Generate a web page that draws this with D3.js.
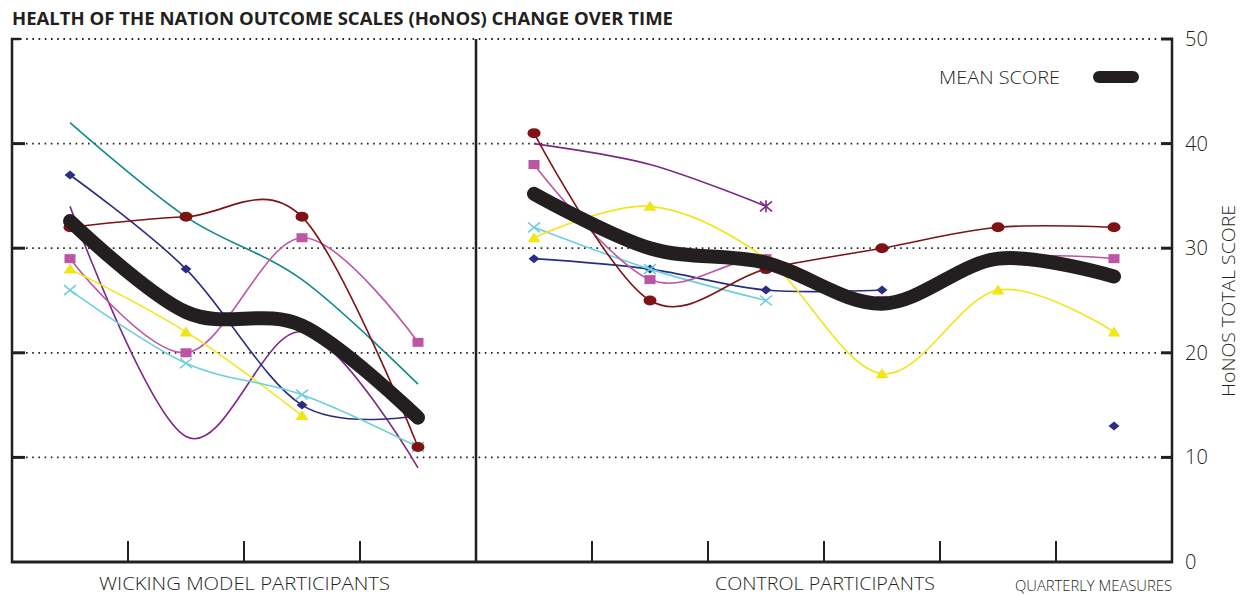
<!DOCTYPE html>
<html>
<head>
<meta charset="utf-8">
<script src="https://cdn.jsdelivr.net/npm/d3@7"></script>
<style>
  html, body { margin: 0; padding: 0; background: #ffffff; }
  svg { display: block; }
  text { font-family: "Open Sans", "Noto Sans", sans-serif; fill: #231f20; }
</style>
</head>
<body>
<svg id="chart" width="1241" height="596"></svg>
<script>
// ---------------- DATA ----------------
const title = "HEALTH OF THE NATION OUTCOME SCALES (HoNOS) CHANGE OVER TIME";
const yTicks = [0, 10, 20, 30, 40, 50];
const quarters = ["W1", "W2", "W3", "W4", "C1", "C2", "C3", "C4", "C5", "C6"];
const wickingQuarters = ["W1", "W2", "W3", "W4"];
const controlQuarters = ["C1", "C2", "C3", "C4", "C5", "C6"];
const groupLabels = ["WICKING MODEL PARTICIPANTS", "CONTROL PARTICIPANTS"];
const axisTitle = "HoNOS TOTAL SCORE";
const xAxisNote = "QUARTERLY MEASURES";
const legendLabel = "MEAN SCORE";

// Wicking model participants (4 quarters)
const wickTeal   = [42, 33, 27, 17];
const wickNavy   = [37, 28, 15, 14];
const wickRed    = [32, 33, 33, 11];
const wickPink   = [29, 20, 31, 21];
const wickYellow = [28, 22, 14, null];
const wickCyan   = [26, 19, 16, 11];
const wickPurple = [34, 12, 22, 9];
const wickMean   = [32.6, 23.9, 22.6, 13.8];

// Control participants (6 quarters)
const ctrlRed    = [41, 25, 28, 30, 32, 32];
const ctrlPurple = [40, 38, 34, null, null, null];
const ctrlPink   = [38, 27, 29, 25, 29, 29];
const ctrlYellow = [31, 34, 29, 18, 26, 22];
const ctrlCyan   = [32, 28, 25, null, null, null];
const ctrlNavy   = [29, 28, 26, 26, null, 13];
const ctrlMean   = [35.2, 30.0, 28.6, 24.7, 29.0, 27.3];

// ---------------- STYLE ----------------
const INK = "#231f20";
const colors = {
  teal: "#14898a", navy: "#2b2e80", red: "#7d1315", pink: "#bb55a4",
  yellow: "#f0e616", cyan: "#6ccfdc", purple: "#7d2a86"
};

const wickingSeries = [
  { values: wickPurple, color: colors.purple, marker: null },
  { values: wickTeal,   color: colors.teal,   marker: null },
  { values: wickNavy,   color: colors.navy,   marker: "diamond" },
  { values: wickPink,   color: colors.pink,   marker: "square" },
  { values: wickYellow, color: colors.yellow, marker: "triangle" },
  { values: wickCyan,   color: colors.cyan,   marker: "cross" },
  { values: wickRed,    color: colors.red,    marker: "circle" }
];
const controlSeries = [
  { values: ctrlPurple, color: colors.purple, marker: "asterisk", markerLastOnly: true },
  { values: ctrlNavy,   color: colors.navy,   marker: "diamond" },
  { values: ctrlCyan,   color: colors.cyan,   marker: "cross" },
  { values: ctrlYellow, color: colors.yellow, marker: "triangle" },
  { values: ctrlPink,   color: colors.pink,   marker: "square" },
  { values: ctrlRed,    color: colors.red,    marker: "circle" }
];

// ---------------- SCALES ----------------
const svg = d3.select("#chart");
const pLeft = 12, pRight = 1172, pTop = 39, pBottom = 562;
const x = d3.scaleBand().domain(quarters).range([pLeft, pRight]).padding(0);
const y = d3.scaleLinear().domain([0, 50]).range([pBottom, pTop]);
const cx = q => x(q) + x.bandwidth() / 2;
const curve = d3.curveCardinal.tension(0);

// ---------------- TITLE ----------------
svg.append("text")
  .attr("x", 12).attr("y", 25)
  .attr("font-size", 18).attr("font-weight", 700)
  .attr("textLength", 661).attr("lengthAdjust", "spacingAndGlyphs")
  .text(title);

// ---------------- GRID ----------------
const grid = svg.append("g");
yTicks.filter(t => t > 0).forEach(t => {
  grid.append("line")
    .attr("x1", t === 50 ? 20 : 26).attr("x2", 1160)
    .attr("y1", y(t)).attr("y2", y(t))
    .attr("stroke", INK).attr("stroke-width", 1.8)
    .attr("stroke-dasharray", "1.6,4.6");
});

// ---------------- FRAME / AXES ----------------
const frame = svg.append("g").attr("stroke", INK).attr("fill", "none");
// left axis
frame.append("line").attr("x1", pLeft).attr("x2", pLeft).attr("y1", pTop - 1).attr("y2", pBottom + 1).attr("stroke-width", 2.5);
frame.append("line").attr("x1", pLeft - 1).attr("x2", 20).attr("y1", pTop).attr("y2", pTop).attr("stroke-width", 2.5);
yTicks.filter(t => t > 0 && t < 50).forEach(t => {
  frame.append("line").attr("x1", pLeft).attr("x2", 25).attr("y1", y(t)).attr("y2", y(t)).attr("stroke-width", 3);
});
// right axis
frame.append("line").attr("x1", pRight).attr("x2", pRight).attr("y1", pTop - 1).attr("y2", pBottom + 1).attr("stroke-width", 2.5);
yTicks.filter(t => t > 0).forEach(t => {
  frame.append("line").attr("x1", 1161).attr("x2", pRight + 1).attr("y1", y(t)).attr("y2", y(t)).attr("stroke-width", 3);
});
// bottom axis
frame.append("line").attr("x1", pLeft - 1).attr("x2", pRight + 1).attr("y1", pBottom).attr("y2", pBottom).attr("stroke-width", 3);
quarters.slice(1).forEach(q => {
  if (q === controlQuarters[0]) return;
  frame.append("line").attr("x1", x(q)).attr("x2", x(q)).attr("y1", pBottom - 21).attr("y2", pBottom).attr("stroke-width", 2);
});
// divider between groups
frame.append("line")
  .attr("x1", x(controlQuarters[0])).attr("x2", x(controlQuarters[0]))
  .attr("y1", pTop).attr("y2", pBottom + 1).attr("stroke-width", 2.5);

// right tick labels
svg.append("g").selectAll("text").data(yTicks).join("text")
  .attr("x", 1185).attr("y", d => y(d) + 7)
  .attr("font-size", 20).attr("font-weight", 300)
  .text(d => d);

// axis title (rotated)
svg.append("text")
  .attr("transform", `translate(1235,${301}) rotate(-90)`)
  .attr("text-anchor", "middle")
  .attr("font-size", 19).attr("font-weight", 300)
  .attr("textLength", 192).attr("lengthAdjust", "spacingAndGlyphs")
  .text(axisTitle);

// group labels
svg.append("text").attr("x", 99).attr("y", 590)
  .attr("font-size", 19).attr("font-weight", 300)
  .attr("textLength", 291).attr("lengthAdjust", "spacingAndGlyphs")
  .text(groupLabels[0]);
svg.append("text").attr("x", 715).attr("y", 590)
  .attr("font-size", 19).attr("font-weight", 300)
  .attr("textLength", 220).attr("lengthAdjust", "spacingAndGlyphs")
  .text(groupLabels[1]);
svg.append("text").attr("x", 1015).attr("y", 591)
  .attr("font-size", 14).attr("font-weight", 300)
  .attr("textLength", 157).attr("lengthAdjust", "spacingAndGlyphs")
  .text(xAxisNote);

// ---------------- MARKERS ----------------
function drawMarker(g, type, px, py, color) {
  switch (type) {
    case "diamond":
      g.append("path").attr("d", `M${px},${py - 4.5}L${px + 5.5},${py}L${px},${py + 4.5}L${px - 5.5},${py}Z`).attr("fill", color);
      break;
    case "circle":
      g.append("ellipse").attr("cx", px).attr("cy", py).attr("rx", 6.5).attr("ry", 5).attr("fill", color);
      break;
    case "square":
      g.append("rect").attr("x", px - 5.5).attr("y", py - 4.5).attr("width", 11).attr("height", 9).attr("fill", color);
      break;
    case "triangle":
      g.append("path").attr("d", `M${px},${py - 5.5}L${px + 6.5},${py + 4.5}L${px - 6.5},${py + 4.5}Z`).attr("fill", color);
      break;
    case "cross":
      g.append("path").attr("d", `M${px - 6},${py - 5}L${px + 6},${py + 5}M${px - 6},${py + 5}L${px + 6},${py - 5}`)
        .attr("stroke", color).attr("stroke-width", 1.6).attr("fill", "none");
      break;
    case "asterisk":
      g.append("path").attr("d", `M${px - 6},${py - 5}L${px + 6},${py + 5}M${px - 6},${py + 5}L${px + 6},${py - 5}M${px},${py - 6}L${px},${py + 6}`)
        .attr("stroke", color).attr("stroke-width", 1.6).attr("fill", "none");
      break;
  }
}

function drawGroup(seriesList, qs, mean) {
  const g = svg.append("g");
  const line = d3.line()
    .defined(d => d.v !== null)
    .x(d => cx(d.q)).y(d => y(d.v))
    .curve(curve);
  seriesList.forEach(s => {
    const pts = s.values.map((v, i) => ({ q: qs[i], v }));
    g.append("path").datum(pts)
      .attr("d", line).attr("fill", "none")
      .attr("stroke", s.color).attr("stroke-width", 1.6);
    if (s.marker) {
      const defined = pts.filter(p => p.v !== null);
      const marks = s.markerLastOnly ? defined.slice(-1) : defined;
      marks.forEach(p => drawMarker(g, s.marker, cx(p.q), y(p.v), s.color));
    }
  });
  const mpts = mean.map((v, i) => ({ q: qs[i], v }));
  g.append("path").datum(mpts)
    .attr("d", line).attr("fill", "none")
    .attr("stroke", INK).attr("stroke-width", 14)
    .attr("stroke-linecap", "round").attr("stroke-linejoin", "round");
}

drawGroup(wickingSeries, wickingQuarters, wickMean);
drawGroup(controlSeries, controlQuarters, ctrlMean);

// ---------------- LEGEND ----------------
svg.append("text").attr("x", 939).attr("y", 84)
  .attr("font-size", 19).attr("font-weight", 300)
  .attr("textLength", 121).attr("lengthAdjust", "spacingAndGlyphs")
  .text(legendLabel);
svg.append("line").attr("x1", 1099).attr("x2", 1133).attr("y1", 77).attr("y2", 77)
  .attr("stroke", INK).attr("stroke-width", 12).attr("stroke-linecap", "round");
</script>
</body>
</html>
